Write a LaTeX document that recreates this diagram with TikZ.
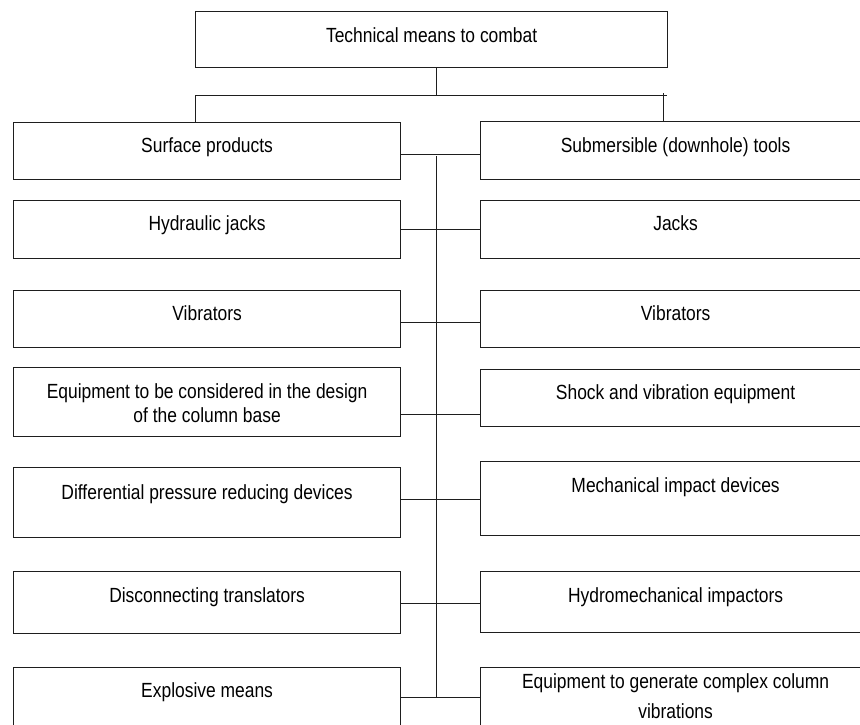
\documentclass[tikz,border=0pt]{standalone}
\usepackage{fontspec}
\setmainfont{Liberation Sans}[FakeStretch=0.85]
\definecolor{ink}{HTML}{1E1E1E}

\begin{document}
\begin{tikzpicture}[x=1pt,y=-1pt,
  box/.style={draw=ink,line width=1.2pt,inner sep=0pt,minimum width=387pt,anchor=north west,align=center,font=\fontsize{20.5}{24}\selectfont},
  link/.style={draw=ink,line width=1pt}]
\useasboundingbox (0,0) rectangle (860,724);
\clip (0,0) rectangle (860,724);
\node[box,minimum width=472pt,text height=31pt,text depth=25pt] (top) at (195,11) {Technical means to combat};
% left column
\node[box,text height=30pt,text depth=27pt] (surf) at (13,122) {Surface products};
\node[box,text height=30pt,text depth=28pt] (hyd) at (13,200) {Hydraulic jacks};
\node[box,text height=30pt,text depth=27pt] (vibl) at (13,290) {Vibrators};
\node[box,text height=55pt,text depth=14pt] (eqcol) at (13,367) {Equipment to be considered in the design\\of the column base};
\node[box,text height=32pt,text depth=38pt] (diff) at (13,467) {Differential pressure reducing devices};
\node[box,text height=31pt,text depth=31pt] (disc) at (13,571) {Disconnecting translators};
\node[box,text height=30pt,text depth=43pt] (expl) at (13,667) {Explosive means};
% right column
\node[box,minimum width=390pt,text height=31pt,text depth=27pt] (sub) at (480,121) {Submersible (downhole) tools};
\node[box,minimum width=390pt,text height=30pt,text depth=28pt] (jacks) at (480,200) {Jacks};
\node[box,minimum width=390pt,text height=30pt,text depth=27pt] (vibr) at (480,290) {Vibrators};
\node[box,minimum width=390pt,text height=30pt,text depth=27pt] (shock) at (480,369) {Shock and vibration equipment};
\node[box,minimum width=390pt,text height=31pt,text depth=43pt] (mech) at (480,461) {Mechanical impact devices};
\node[box,minimum width=390pt,text height=31pt,text depth=30pt] (hydro) at (480,571) {Hydromechanical impactors};
\node[box,minimum width=390pt,text height=51pt,text depth=22pt,font=\fontsize{20.5}{30}\selectfont] (eqgen) at (480,667) {Equipment to generate complex column\\vibrations};
% connectors
\coordinate (t0) at (436,156);
\coordinate (t1) at (436,698);
\coordinate (barL) at (195,95);
\coordinate (barR) at (667,95);
\coordinate (dropR) at (663,93);
\draw[link] (top.south -| t0) -- (t0 |- barL);
\draw[link] (barL) -- (barR);
\draw[link] (barL) -- (barL |- surf.north);
\draw[link] (dropR) -- (dropR |- sub.north);
\draw[link] (t0) -- (t1);
\foreach \l/\r/\y in {surf/sub/154,hyd/jacks/229,vibl/vibr/322,eqcol/shock/414,diff/mech/499,disc/hydro/603,expl/eqgen/697}
  \draw[link] (\l.east |- 0,\y) -- (\r.west |- 0,\y);
\end{tikzpicture}
\end{document}
